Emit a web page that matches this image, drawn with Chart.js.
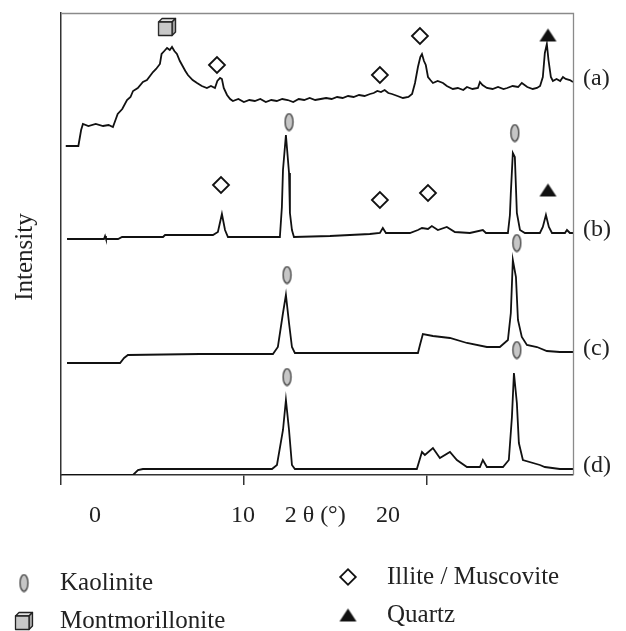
<!DOCTYPE html>
<html>
<head>
<meta charset="utf-8">
<script src="https://cdn.jsdelivr.net/npm/chart.js@4.4.0/dist/chart.umd.min.js"></script>
<style>
  html, body { margin: 0; padding: 0; background: #fff; }
  #grafico { display: block; }
</style>
</head>
<body>
<canvas id="grafico" width="626" height="631"></canvas>
<script>
// 2θ (deg) , intensity (arbitrary units, traces already stacked)
const traceA = [[0.26,329],[0.95,329],[1.1,345],[1.2,351],[1.5,349],[1.9,351],[2.3,349],[2.6,350],[2.84,348],[3.0,356],[3.1,361],[3.35,366],[3.61,375],[3.8,378],[3.94,384],[4.2,387],[4.48,393],[4.7,395],[5.03,403],[5.2,406],[5.41,411],[5.5,421],[5.65,424],[5.8,427],[5.95,425],[6.07,428],[6.2,424],[6.34,421],[6.5,414],[6.62,410],[6.8,404],[6.94,400],[7.2,395],[7.44,392],[7.7,389],[7.98,387],[8.2,389],[8.42,387],[8.55,394],[8.7,397],[8.8,396],[8.9,387],[9.08,380],[9.25,376],[9.4,374],[9.7,376],[10.0,373],[10.3,375],[10.6,374],[10.9,376],[11.2,373],[11.5,375],[11.8,374],[12.1,376],[12.4,375],[12.7,373],[13.0,376],[13.3,375],[13.6,377],[13.9,375],[14.2,376],[14.5,377],[14.8,376],[15.1,378],[15.4,377],[15.7,379],[16.0,378],[16.3,380],[16.6,379],[16.9,381],[17.1,382],[17.3,384],[17.5,383],[17.7,385],[17.9,382],[18.1,381],[18.4,379],[18.7,377],[19.0,378],[19.2,381],[19.36,392],[19.52,408],[19.65,418],[19.74,421],[19.85,414],[19.95,410],[20.07,398],[20.2,395],[20.34,392],[20.6,394],[20.89,392],[21.1,389],[21.43,386],[21.7,387],[22.0,385],[22.2,388],[22.5,386],[22.8,387],[22.91,393],[23.05,390],[23.29,387],[23.6,386],[23.9,388],[24.2,386],[24.4,387],[24.7,389],[25.0,388],[25.2,392],[25.5,388],[25.8,386],[26.03,387],[26.2,389],[26.35,398],[26.46,422],[26.57,431],[26.66,415],[26.79,398],[26.9,394],[27.1,396],[27.3,394],[27.45,398],[27.6,396],[27.83,395],[28.0,393]];
const traceB = [[0.33,236],[2.35,236],[2.41,239],[2.46,236],[3.12,236],[3.34,238],[5.58,238],[5.69,240],[7.05,240],[8.31,240],[8.58,243],[8.8,261],[8.97,245],[9.13,238],[11.97,238],[12.08,268],[12.14,305],[12.3,340],[12.47,302],[12.52,262],[12.63,245],[12.74,238],[14.71,239],[16.89,241],[17.44,242],[17.6,247],[17.77,242],[19.08,242],[19.52,245],[19.74,247],[20.07,246],[20.28,249],[20.61,245],[21.1,248],[21.54,243],[22.36,242],[23.07,245],[23.24,242],[24.44,242],[24.55,260],[24.6,282],[24.71,322],[24.82,318],[24.93,262],[25.1,245],[25.37,242],[26.19,242],[26.35,248],[26.52,260],[26.68,248],[26.85,242],[27.56,242],[27.67,245],[27.83,242],[28.0,242]];
const traceC = [[0.33,112],[3.23,112],[3.45,117],[3.66,120],[7.6,121],[11.59,121],[11.86,128],[12.14,162],[12.3,180],[12.47,152],[12.63,128],[12.79,122],[15.8,122],[19.52,122],[19.63,130],[19.79,141],[20.34,139],[21.27,137],[22.2,132],[23.29,128],[24.0,128],[24.44,135],[24.6,162],[24.71,215],[24.88,198],[24.99,155],[25.2,138],[25.48,130],[26.03,128],[26.57,124],[27.28,123],[28.0,123]];
const traceD = [[0.05,0],[3.94,0],[4.21,5],[4.48,6],[11.54,6],[11.81,10],[12.14,45],[12.3,75],[12.47,45],[12.63,10],[12.79,6],[19.46,6],[19.74,23],[19.9,20],[20.34,27],[20.72,17],[21.27,23],[21.65,15],[22.2,8],[22.91,8],[23.07,15],[23.29,8],[24.17,8],[24.49,15],[24.66,58],[24.77,102],[24.93,72],[25.04,32],[25.26,15],[26.19,10],[26.46,8],[27.28,6],[28.0,6]];
const traceNames = ['(a)', '(b)', '(c)', '(d)'];

// mineral markers
const kaolinitePts = [[12.47,353],[24.82,342],[12.36,200],[24.93,232],[12.36,98],[24.93,125]];
const montmoPts = [[5.8,448]];
const illitePts = [[8.53,410],[17.44,400],[19.63,439],[8.75,290],[17.44,275],[20.07,282]];
const quartzPts = [[26.63,440],[26.63,285]];
const legendNames = ['Kaolinite', 'Montmorillonite', 'Illite / Muscovite', 'Quartz'];

// axis
const tickValues = [0, 10, 20];
const labelValues = [1.86, 9.95, 13.9, 17.88];
const tickLabels = ['0', '10', '2 θ (°)', '20'];

const serif = '"Liberation Serif", "Times New Roman", serif';

function toXY(arr) {
    return arr.map(p => ({ x: p[0], y: p[1] }));
}

function makeCanvas(w, h, draw) {
    const c = document.createElement('canvas');
    c.width = w; c.height = h;
    draw(c.getContext('2d'));
    return c;
}

const ellipseImg = makeCanvas(11, 19, g => {
    g.beginPath();
    g.ellipse(5.5, 9.5, 4, 8.3, 0, 0, Math.PI * 2);
    g.fillStyle = '#c6c6c6';
    g.fill();
    g.lineWidth = 1.2;
    g.strokeStyle = '#333';
    g.stroke();
});

const cubeImg = makeCanvas(20, 20, g => {
    g.lineWidth = 1.3;
    g.strokeStyle = '#222';
    g.lineJoin = 'round';
    g.fillStyle = '#e2e2e2';
    g.beginPath(); g.moveTo(1.5, 5); g.lineTo(5, 1.5); g.lineTo(18.5, 1.5); g.lineTo(15, 5); g.closePath();
    g.fill(); g.stroke();
    g.fillStyle = '#a9a9a9';
    g.beginPath(); g.moveTo(15, 5); g.lineTo(18.5, 1.5); g.lineTo(18.5, 15); g.lineTo(15, 18.5); g.closePath();
    g.fill(); g.stroke();
    g.fillStyle = '#c8c8c8';
    g.fillRect(1.5, 5, 13.5, 13.5);
    g.strokeRect(1.5, 5, 13.5, 13.5);
});

const triangleImg = makeCanvas(19, 15, g => {
    g.beginPath();
    g.moveTo(9.5, 1); g.lineTo(18, 14); g.lineTo(1, 14); g.closePath();
    g.fillStyle = '#111';
    g.fill();
});

function markerSet(pts, style, extra) {
    return Object.assign({
        data: toXY(pts),
        showLine: false,
        pointStyle: style,
        pointRadius: 8,
        clip: false,
        order: 0
    }, extra || {});
}

function traceSet(pts) {
    return {
        data: toXY(pts),
        borderColor: '#111',
        borderWidth: 1.8,
        pointRadius: 0,
        tension: 0,
        fill: false,
        order: 1
    };
}

const legendItems = [
    { img: ellipseImg, col: 0, row: 0 },
    { img: cubeImg, col: 0, row: 1 },
    { img: 'diamond', col: 1, row: 0 },
    { img: triangleImg, col: 1, row: 1 }
];

const decor = {
    id: 'decor',
    afterDraw(chart) {
        const ctx = chart.ctx;
        const a = chart.chartArea;
        const ys = chart.scales.y;
        ctx.save();
        // frame top / right
        ctx.strokeStyle = '#8a8a8a';
        ctx.lineWidth = 1.3;
        ctx.beginPath();
        ctx.moveTo(a.left, a.top + 0.5);
        ctx.lineTo(a.right + 0.5, a.top + 0.5);
        ctx.lineTo(a.right + 0.5, a.bottom);
        ctx.stroke();

        ctx.fillStyle = '#222';
        ctx.font = '24px ' + serif;
        ctx.textBaseline = 'middle';
        ctx.textAlign = 'left';
        [traceA, traceB, traceC, traceD].forEach((t, i) => {
            const last = t[t.length - 1];
            ctx.fillText(traceNames[i], a.right + 10, ys.getPixelForValue(last[1]) - 3);
        });

        // y title
        ctx.save();
        ctx.translate(25, 257);
        ctx.rotate(-Math.PI / 2);
        ctx.textAlign = 'center';
        ctx.font = '25px ' + serif;
        ctx.fillText('Intensity', 0, 0);
        ctx.restore();

        // legend
        ctx.font = '25px ' + serif;
        legendItems.forEach((it, i) => {
            const symX = it.col === 0 ? 24 : 348;
            const txtX = it.col === 0 ? 60 : 387;
            const y = (it.col === 0 ? 583 : 577) + it.row * 38;
            if (it.img === 'diamond') {
                ctx.save();
                ctx.translate(symX, y);
                ctx.rotate(Math.PI / 4);
                ctx.fillStyle = '#fff';
                ctx.strokeStyle = '#111';
                ctx.lineWidth = 1.8;
                ctx.fillRect(-5.5, -5.5, 11, 11);
                ctx.strokeRect(-5.5, -5.5, 11, 11);
                ctx.restore();
            } else {
                ctx.drawImage(it.img, symX - it.img.width / 2, y - it.img.height / 2);
            }
            ctx.fillStyle = '#222';
            ctx.fillText(legendNames[i], txtX, y);
        });
        ctx.restore();
    }
};

const grafico = new Chart(document.getElementById('grafico').getContext('2d'), {
    type: 'line',
    data: {
        datasets: [
            traceSet(traceA), traceSet(traceB), traceSet(traceC), traceSet(traceD),
            markerSet(kaolinitePts, ellipseImg),
            markerSet(montmoPts, cubeImg),
            markerSet(illitePts, 'rectRot', { pointRadius: 8, pointBorderWidth: 1.8, pointBorderColor: '#111', pointBackgroundColor: '#fff' }),
            markerSet(quartzPts, triangleImg)
        ]
    },
    options: {
        responsive: false,
        animation: false,
        layout: { padding: { top: 13, right: 53, left: 0, bottom: 0 } },
        plugins: { legend: { display: false }, tooltip: { enabled: false } },
        scales: {
            x: {
                type: 'linear', min: 0, max: 28, position: 'bottom',
                afterBuildTicks: s => { s.ticks = tickValues.map(v => ({ value: v })); },
                ticks: { display: false },
                grid: { drawOnChartArea: false, drawTicks: true, tickLength: 10, color: '#333', lineWidth: 1.5 },
                border: { display: true, color: '#333', width: 1.5 },
                afterFit: s => { s.height = 10; }
            },
            x2: {
                type: 'linear', min: 0, max: 28, position: 'bottom',
                afterBuildTicks: s => { s.ticks = labelValues.map(v => ({ value: v })); },
                ticks: {
                    callback: (v, i) => tickLabels[i],
                    font: { family: serif, size: 24 },
                    color: '#222', padding: 16, maxRotation: 0, autoSkip: false
                },
                grid: { display: false, drawTicks: false },
                border: { display: false },
                afterFit: s => { s.height = 146; }
            },
            y: {
                min: 0, max: 462,
                ticks: { display: false },
                grid: { display: false, drawTicks: false },
                border: { color: '#333', width: 1.5 },
                afterFit: s => { s.width = 61; }
            }
        }
    },
    plugins: [decor]
});
</script>
</body>
</html>
